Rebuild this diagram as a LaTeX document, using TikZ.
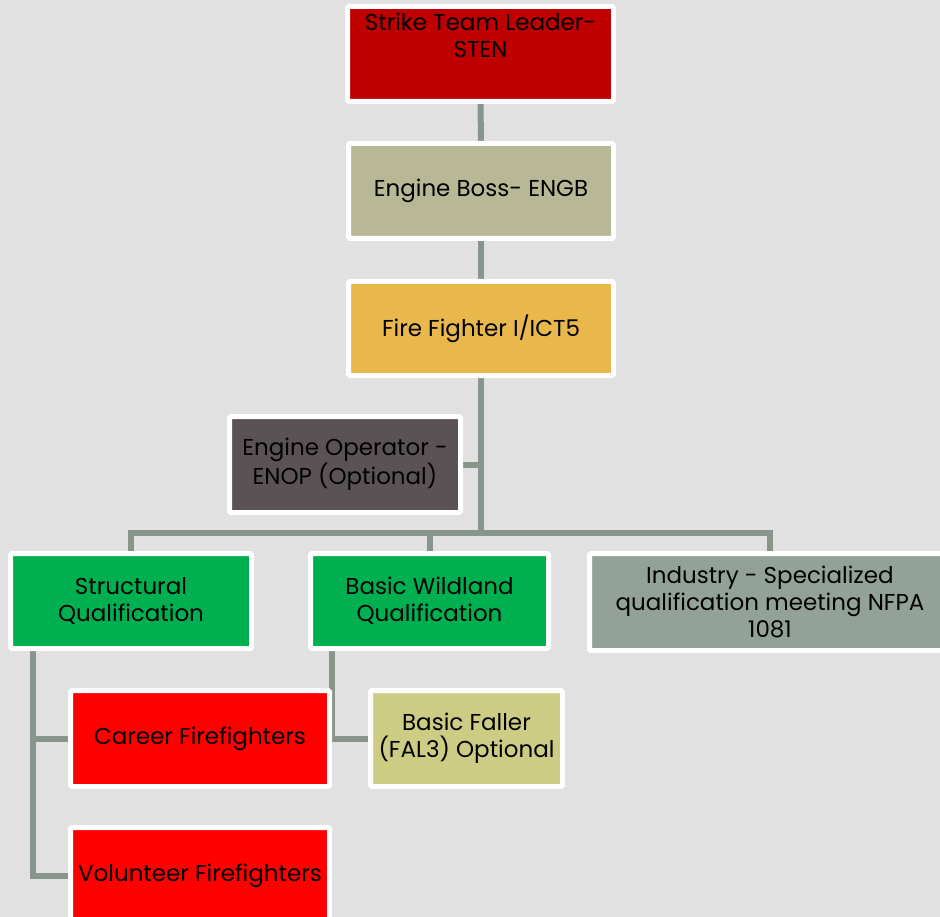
\documentclass[tikz,border=0pt]{standalone}
\usepackage{fontspec}
\setmainfont{Poppins}
\definecolor{bggray}{HTML}{E1E1E1}
\definecolor{linkgray}{HTML}{87958A}
\definecolor{stenred}{HTML}{C00000}
\definecolor{engbtan}{HTML}{B9B896}
\definecolor{ffgold}{HTML}{E8B84C}
\definecolor{enopgray}{HTML}{5A5254}
\definecolor{qualgreen}{HTML}{00B050}
\definecolor{indgray}{HTML}{93A299}
\definecolor{crewred}{HTML}{FF0000}
\definecolor{fallerolive}{HTML}{CCCC85}
\pgfdeclarelayer{bg}
\pgfsetlayers{bg,main}
\begin{document}
\begin{tikzpicture}[x=1pt,y=-1pt,
  box/.style={draw=white, line width=5pt, rounded corners=1.5pt, inner sep=0pt,
    align=center, font=\fontsize{23}{27}\selectfont},
  link/.style={draw=linkgray, line width=6pt}]
\useasboundingbox (0,0) rectangle (940,917);
\clip (0,0) rectangle (940,917);
\node[box, fill=stenred, minimum width=266pt, minimum height=95pt] (sten) at (480.5,54) {};
\node[anchor=north, align=center, font=\fontsize{23}{27}\selectfont, inner sep=0pt] (stentext) at ([yshift=-8.5pt]sten.north) {Strike Team Leader-\\STEN};
\node[box, fill=engbtan, minimum width=265pt, minimum height=95pt] (engb) at (481,191) {Engine Boss- ENGB};
\node[box, fill=ffgold, minimum width=265pt, minimum height=94pt] (ff) at (481,328.5) {Fire Fighter I/ICT5};
\node[box, fill=enopgray, minimum width=231pt, minimum height=96pt] (enop) at (345,464.5) {Engine Operator -\\ENOP (Optional)};
\node[box, fill=qualgreen, minimum width=241pt, minimum height=95pt] (struct) at (131,601) {Structural\\Qualification};
\node[box, fill=qualgreen, minimum width=238pt, minimum height=95pt] (wild) at (429.5,601) {Basic Wildland\\Qualification};
\node[box, fill=indgray, minimum width=361pt, minimum height=97pt] (ind) at (770,602) {Industry - Specialized\\qualification meeting NFPA\\1081};
\node[box, fill=crewred, minimum width=259pt, minimum height=96pt] (career) at (200,738.5) {Career Firefighters};
\node[box, fill=fallerolive, minimum width=192pt, minimum height=96pt] (faller) at (466.5,738.5) {Basic Faller\\(FAL3) Optional};
\node[box, fill=crewred, minimum width=259pt, minimum height=96pt] (vol) at (200,875.5) {Volunteer Firefighters};
\coordinate (bar) at (481,533);
\begin{pgfonlayer}{bg}
\fill[bggray] (0,0) rectangle (940,917);
\draw[link] (sten.south) -- (engb.north);
\draw[link] (engb.south) -- (ff.north);
\draw[link] (ff.south) -- (bar);
\draw[link] (enop.east) -- (enop.east -| bar);
\draw[link] (struct.north) |- (bar) -| (ind.north);
\draw[link] (wild.north) -- (wild.north |- bar);
\draw[link] ([xshift=24.5pt]struct.south west) |- (career.west);
\draw[link] ([xshift=24.5pt]struct.south west) |- (vol.west);
\draw[link] ([xshift=23.5pt]wild.south west) |- (faller.west);
\end{pgfonlayer}
\end{tikzpicture}
\end{document}
